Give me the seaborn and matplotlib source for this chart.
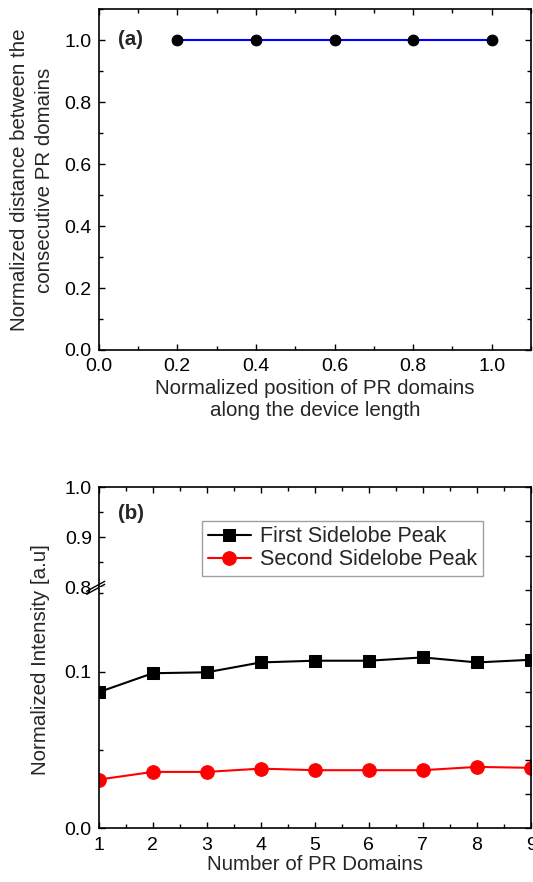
import matplotlib
matplotlib.use("Agg")
import matplotlib.pyplot as plt
import seaborn as sns
from matplotlib.ticker import MultipleLocator

sns.set_style("ticks")
plt.rcParams['font.family'] = ['Liberation Sans', 'DejaVu Sans']

# Panel (a): spacing of PR domains along the device
position = [0.2, 0.4, 0.6, 0.8, 1.0]
distance = [1.0, 1.0, 1.0, 1.0, 1.0]

# Panel (b): sidelobe peaks vs number of PR domains
domains = [1, 2, 3, 4, 5, 6, 7, 8, 9]
first_peak = [0.0869, 0.0990, 0.0996, 0.1059, 0.1070, 0.1070, 0.1091, 0.1059, 0.1076]
second_peak = [0.0311, 0.0360, 0.0360, 0.0381, 0.0371, 0.0371, 0.0371, 0.0392, 0.0386]

FS_TICK = 14
FS_LAB = 14.8
FS_LEG = 15.5
W, H = 533, 882
fig = plt.figure(figsize=(W / 100, H / 100), dpi=100)


def rect(left, top, right, bottom):
    return [left / W, 1 - bottom / H, (right - left) / W, (bottom - top) / H]


def style(ax):
    for sp in ax.spines.values():
        sp.set_linewidth(1.2)
        sp.set_color('black')
    ax.tick_params(which='both', direction='in', width=1.0, color='black',
                   labelsize=FS_TICK, labelcolor='black')
    ax.tick_params(which='major', length=4.5)
    ax.tick_params(which='minor', length=3)
    ax.grid(False)


L, R = 98.7, 531

# ---------------- (a) ----------------
ax_a = fig.add_axes(rect(L, 9.3, R, 350))
sns.lineplot(x=position, y=distance, ax=ax_a, color='blue', linewidth=1.5,
             marker='o', markersize=7.7, markerfacecolor='black',
             markeredgecolor='black', markeredgewidth=0.8)
ax_a.set_xlim(0, 1.1)
ax_a.set_ylim(0, 1.1)
ax_a.set_xticks([0.0, 0.2, 0.4, 0.6, 0.8, 1.0])
ax_a.set_yticks([0.0, 0.2, 0.4, 0.6, 0.8, 1.0])
ax_a.set_xticklabels(['0.0', '0.2', '0.4', '0.6', '0.8', '1.0'])
ax_a.set_yticklabels(['0.0', '0.2', '0.4', '0.6', '0.8', '1.0'])
ax_a.xaxis.set_minor_locator(MultipleLocator(0.1))
ax_a.yaxis.set_minor_locator(MultipleLocator(0.1))
style(ax_a)
ax_a.tick_params(which='both', top=True, right=True)
ax_a.tick_params(axis='x', pad=6)
ax_a.tick_params(axis='y', pad=5)
ax_a.set_xlabel('')
ax_a.set_ylabel('')
fig.text(315 / W, 1 - 400 / H, 'Normalized position of PR domains\nalong the device length',
         ha='center', va='center', fontsize=FS_LAB, linespacing=1.2)
fig.text(32 / W, 1 - 180 / H, 'Normalized distance between the\nconsecutive PR domains',
         ha='center', va='center', rotation=90, fontsize=FS_LAB, linespacing=1.4)
ax_a.text(0.045, 0.91, '(a)', transform=ax_a.transAxes, fontsize=FS_LAB,
          fontweight='bold', va='center', ha='left')

# ---------------- (b) ----------------
TOP_B, BRK, BOT_B = 487.3, 587.3, 828.3
ax_up = fig.add_axes(rect(L, TOP_B, R, BRK))
ax_lo = fig.add_axes(rect(L, BRK, R, BOT_B))

for ax in (ax_up, ax_lo):
    sns.lineplot(x=domains, y=first_peak, ax=ax, color='black', linewidth=1.5,
                 marker='s', markersize=9.2, markerfacecolor='black',
                 markeredgecolor='black', label='First Sidelobe Peak')
    sns.lineplot(x=domains, y=second_peak, ax=ax, color='red', linewidth=1.5,
                 marker='o', markersize=9.8, markerfacecolor='red',
                 markeredgecolor='red', label='Second Sidelobe Peak')
    if ax.get_legend() is not None:
        ax.get_legend().remove()
    ax.set_xlim(1, 9)
    ax.xaxis.set_major_locator(MultipleLocator(1))
    ax.xaxis.set_minor_locator(MultipleLocator(0.5))
    style(ax)
    ax.set_xlabel('')
    ax.set_ylabel('')

lower_top = 0.1 * (BOT_B - BRK) / (BOT_B - 671.67)
ax_lo.set_ylim(0, lower_top)
ax_lo.set_yticks([0.0, 0.1])
ax_lo.set_yticklabels(['0.0', '0.1'])
ax_lo.yaxis.set_minor_locator(MultipleLocator(0.05))
ax_lo.spines['top'].set_visible(False)
ax_lo.tick_params(which='both', top=False, right=False, left=True, bottom=True)
ax_lo.tick_params(axis='x', pad=6)
ax_lo.tick_params(axis='y', pad=5)

ax_up.set_ylim(0.8, 1.0)
ax_up.set_yticks([0.8, 0.9, 1.0])
ax_up.set_yticklabels(['0.8', '0.9', '1.0'])
ax_up.yaxis.set_minor_locator(MultipleLocator(0.05))
ax_up.spines['bottom'].set_visible(False)
ax_up.tick_params(which='both', top=True, bottom=False, labelbottom=False,
                  right=False, left=True)
ax_up.tick_params(axis='y', pad=5)

# unlabeled ticks on the right edge of panel (b)
ax_r = fig.add_axes(rect(L, TOP_B, R, BOT_B), frameon=False)
ax_r.set_xlim(0, 1)
ax_r.set_ylim(0, 1)
ax_r.yaxis.set_major_locator(MultipleLocator(0.1))
ax_r.tick_params(axis='y', which='both', direction='in', left=False, right=True,
                 labelleft=False, labelright=False, length=4.5, width=1.0, color='black')
ax_r.tick_params(axis='x', which='both', bottom=False, top=False,
                 labelbottom=False, labeltop=False)

# axis break marks on the left spine
for dy in (-0.03, 0.0):
    ax_up.plot([-0.028, 0.014], [dy - 0.04, dy + 0.06], transform=ax_up.transAxes,
               color='black', linewidth=1.0, clip_on=False)

fig.text(315 / W, 1 - 864 / H, 'Number of PR Domains', ha='center', va='center',
         fontsize=FS_LAB)
fig.text(41 / W, 1 - 660 / H, 'Normalized Intensity [a.u]', rotation=90,
         ha='center', va='center', fontsize=FS_LAB)
ax_up.text(0.045, 0.74, '(b)', transform=ax_up.transAxes, fontsize=FS_LAB,
           fontweight='bold', va='center', ha='left')

handles, labels = ax_lo.get_legend_handles_labels()
leg = ax_up.legend(handles, labels, loc='upper right',
                   bbox_to_anchor=(483 / W, 1 - 520.7 / H),
                   bbox_transform=fig.transFigure, borderaxespad=0,
                   fontsize=FS_LEG, frameon=True, fancybox=False, framealpha=1,
                   edgecolor='#a0a0a0', handlelength=2.0, handletextpad=0.45,
                   labelspacing=0.1, borderpad=0.25)
leg.get_frame().set_linewidth(1.0)

fig.savefig('out.png', dpi=100)
